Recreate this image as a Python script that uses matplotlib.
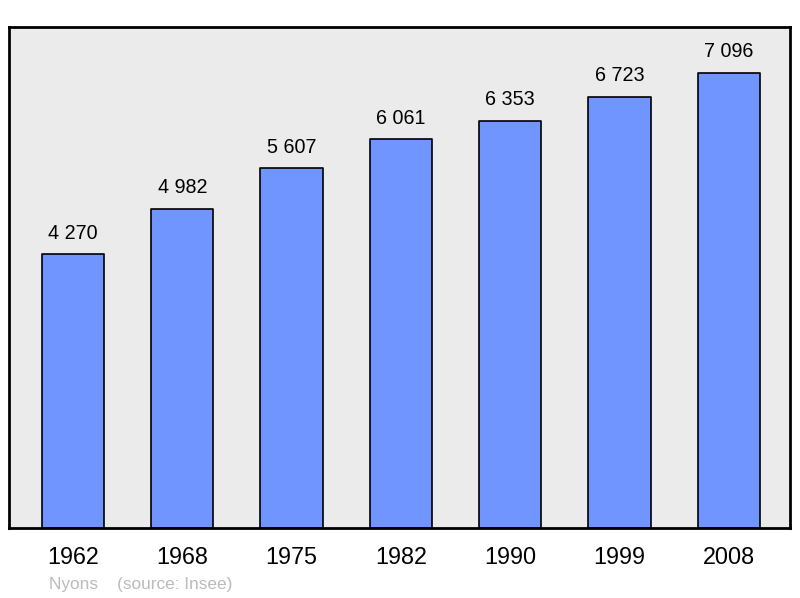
import matplotlib.pyplot as plt

years = ["1962", "1968", "1975", "1982", "1990", "1999", "2008"]
population = [4270, 4982, 5607, 6061, 6353, 6723, 7096]
value_labels = ["4 270", "4 982", "5 607", "6 061", "6 353", "6 723", "7 096"]

plt.rcParams["font.family"] = ["Liberation Sans", "DejaVu Sans"]

fig = plt.figure(figsize=(8, 5.98), dpi=100)
ax = fig.add_axes([0.01125, 0.117, 0.97625, 0.838])
ax.set_facecolor("#ebebeb")

x = range(len(years))
ax.bar(x, population, width=0.57, color="#7095ff", edgecolor="black",
       linewidth=1.2, joinstyle="round", zorder=2)

for i, (v, lab) in enumerate(zip(population, value_labels)):
    ax.text(i, v + 180, lab, ha="center", va="bottom", fontsize=14.2)

ax.set_xlim(-0.585, 6.56)
ax.set_ylim(0, 7815)
ax.set_yticks([])
ax.set_xticks(list(x))
ax.set_xticklabels(years, fontsize=16.8)
ax.tick_params(axis="x", length=0, pad=13)
for s in ax.spines.values():
    s.set_linewidth(2)
    s.set_color("black")

fig.text(49 / 800, 1 - 584 / 598, "Nyons    (source: Insee)", color="#bbbbbb",
         fontsize=12.4, va="center", ha="left")

fig.savefig("out.png", dpi=100)
